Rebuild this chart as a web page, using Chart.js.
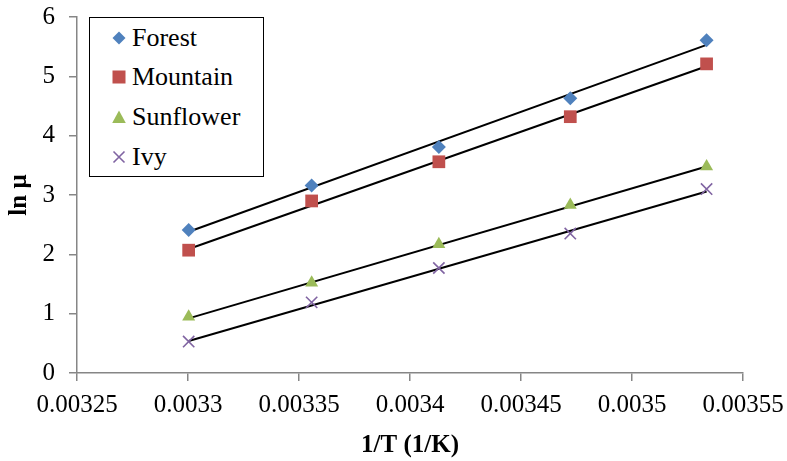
<!DOCTYPE html>
<html>
<head>
<meta charset="utf-8">
<script src="https://cdn.jsdelivr.net/npm/chart.js@4/dist/chart.umd.min.js"></script>
<style>
  html, body { margin: 0; padding: 0; background: #fff; }
  #wrap { position: relative; width: 787px; height: 461px; }
  #legend { position: absolute; left: 89px; top: 17px; width: 173px; height: 158px;
    border: 1.5px solid #000; background: #fff; font-family: 'Liberation Serif', 'Times New Roman', serif; font-size: 26px; }
  .item { position: absolute; left: 0; height: 30px; line-height: 30px; white-space: nowrap; }
  .item svg { position: absolute; left: 22px; top: 8px; }
  .item span { position: absolute; left: 42px; top: 0; }
</style>
</head>
<body>
<div id="wrap">
  <canvas id="c" width="787" height="461"></canvas>
  <div id="legend"></div>
</div>
<script>
// ---- data ----
const xValues = [0.0033003, 0.0033557, 0.0034130, 0.0034722, 0.0035336];
const forest = [2.41, 3.16, 3.81, 4.63, 5.61];
const mountain = [2.07, 2.90, 3.56, 4.32, 5.21];
const sunflower = [0.95, 1.52, 2.17, 2.83, 3.48];
const ivy = [0.53, 1.19, 1.77, 2.35, 3.10];
// trend line end points
const trendX = [0.0033003, 0.0035336];
const trendForest = [2.38, 5.53];
const trendMountain = [2.09, 5.17];
const trendSunflower = [0.92, 3.48];
const trendIvy = [0.54, 3.06];
const seriesNames = ['Forest', 'Mountain', 'Sunflower', 'Ivy'];
const xTickValues = [0.00325, 0.0033, 0.00335, 0.0034, 0.00345, 0.0035, 0.00355];
const xTickLabels = ['0.00325', '0.0033', '0.00335', '0.0034', '0.00345', '0.0035', '0.00355'];
const yTickValues = [0, 1, 2, 3, 4, 5, 6];
const yTickLabels = ['0', '1', '2', '3', '4', '5', '6'];

const colors = ['#4F81BD', '#C0504D', '#9BBB59', '#8064A2'];
const styles = ['rectRot', 'rect', 'triangle', 'crossRot'];
const radii = [7, 9, 7.5, 8];
const pts = (ys) => ys.map((y, i) => ({x: xValues[i], y}));
const tpts = (ys) => ys.map((y, i) => ({x: trendX[i], y}));

const seriesData = [forest, mountain, sunflower, ivy];
const trendData = [trendForest, trendMountain, trendSunflower, trendIvy];

const datasets = [];
trendData.forEach((t) => {
  datasets.push({ type: 'line', data: tpts(t), borderColor: '#000', borderWidth: 2,
    pointRadius: 0, fill: false, order: 2 });
});
seriesData.forEach((s, i) => {
  datasets.push({ type: 'scatter', label: seriesNames[i], data: pts(s),
    pointStyle: styles[i], pointRadius: radii[i], pointHoverRadius: radii[i],
    backgroundColor: colors[i], borderColor: colors[i],
    borderWidth: styles[i] === 'crossRot' ? 1.6 : 0, order: 1 });
});

const serif = "'Liberation Serif', 'Times New Roman', serif";
const axisGray = '#868686';

new Chart(document.getElementById('c'), {
  type: 'scatter',
  data: { datasets },
  options: {
    responsive: false,
    animation: false,
    events: [],
    layout: { padding: { top: 17, right: 44, bottom: 0, left: 0 } },
    plugins: { legend: { display: false }, tooltip: { enabled: false } },
    scales: {
      x: {
        type: 'linear', min: 0.00325, max: 0.00355,
        afterBuildTicks: (ax) => { ax.ticks = xTickValues.map(v => ({ value: v })); },
        afterFit: (ax) => { ax.height = 88; ax.paddingLeft = 0; ax.paddingRight = 0; },
        ticks: { color: '#000', font: { family: serif, size: 25 }, padding: 9, maxRotation: 0,
          autoSkip: false, callback: (v, i) => xTickLabels[i] },
        grid: { display: true, drawOnChartArea: false, drawTicks: true, tickLength: 8, color: axisGray, lineWidth: 1.5 },
        border: { color: axisGray, width: 1.5 },
        title: { display: true, text: '1/T (1/K)', color: '#000',
          font: { family: serif, size: 25, weight: 'bold' }, padding: { top: 0, bottom: 0 } }
      },
      y: {
        type: 'linear', min: 0, max: 6,
        afterBuildTicks: (ax) => { ax.ticks = yTickValues.map(v => ({ value: v })); },
        afterFit: (ax) => { ax.width = 77; ax.paddingTop = 0; ax.paddingBottom = 0; },
        ticks: { color: '#000', font: { family: serif, size: 25 }, padding: 14,
          callback: (v, i) => yTickLabels[i] },
        grid: { display: true, drawOnChartArea: false, drawTicks: true, tickLength: 8, color: axisGray, lineWidth: 1.5 },
        border: { color: axisGray, width: 1.5 },
        title: { display: true, text: 'ln μ', color: '#000',
          font: { family: serif, size: 25, weight: 'bold' }, padding: { top: 5, bottom: 0 } }
      }
    }
  }
});

// ---- HTML legend ----
const legend = document.getElementById('legend');
const svgs = [
  '<svg width="14" height="14" viewBox="0 0 14 14"><polygon points="7,0.5 13.5,7 7,13.5 0.5,7" fill="#4F81BD"/></svg>',
  '<svg width="14" height="14" viewBox="0 0 14 14"><rect x="0.5" y="0.5" width="13" height="13" fill="#C0504D"/></svg>',
  '<svg width="14" height="14" viewBox="0 0 14 14"><polygon points="7,0.5 13.8,13 0.2,13" fill="#9BBB59"/></svg>',
  '<svg width="14" height="14" viewBox="0 0 14 14"><path d="M1.5,1.5 L12.5,12.5 M12.5,1.5 L1.5,12.5" stroke="#8064A2" stroke-width="1.6"/></svg>'
];
const itemTops = [5, 44, 84, 124];
seriesNames.forEach((n, i) => {
  const d = document.createElement('div');
  d.className = 'item';
  d.style.top = itemTops[i] + 'px';
  d.innerHTML = svgs[i] + '<span>' + n + '</span>';
  legend.appendChild(d);
});
</script>
</body>
</html>
